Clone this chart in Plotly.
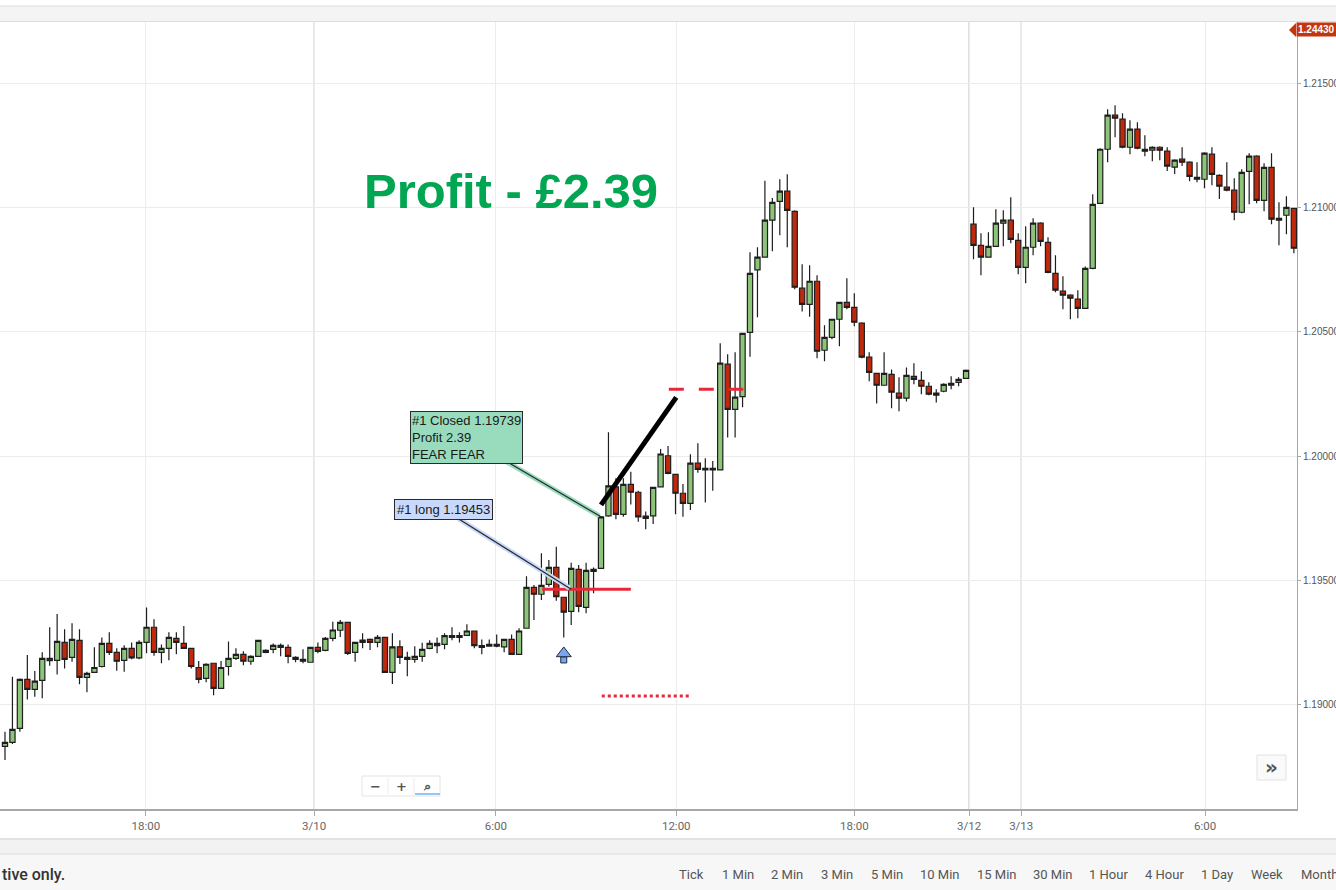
import plotly.graph_objects as go

# ---------------- data (EUR/USD style 15-min candles) ----------------
open_ = [1.18830,1.18846,1.18903,1.19100,1.19060,1.19096,1.19185,1.19177,1.19249,1.19189,
         1.19257,1.19108,1.19128,1.19152,1.19245,1.19209,1.19177,1.19225,1.19187,1.19249,
         1.19310,1.19209,1.19225,1.19265,1.19245,1.19225,1.19148,1.19104,1.19165,1.19064,
         1.19152,1.19185,1.19201,1.19173,1.19193,1.19209,1.19221,1.19237,1.19229,1.19189,
         1.19181,1.19169,1.19229,1.19217,1.19265,1.19298,1.19330,1.19209,1.19249,1.19261,
         1.19249,1.19269,1.19128,1.19231,1.19189,1.19181,1.19193,1.19225,1.19245,1.19241,
         1.19276,1.19269,1.19277,1.19295,1.19236,1.19234,1.19241,1.19231,1.19261,1.19201,
         1.19306,1.19471,1.19443,1.19483,1.19551,1.19431,1.19374,1.19543,1.19390,1.19535,
         1.19547,1.19759,1.19876,1.19765,1.19886,1.19854,1.19749,1.19759,1.19876,1.20001,
         1.19926,1.19850,1.19809,1.19971,1.19944,1.19950,1.19944,1.20370,1.20188,1.20239,
         1.20498,1.20750,1.20801,1.20950,1.21026,1.21067,1.20986,1.20676,1.20611,1.20704,
         1.20426,1.20478,1.20551,1.20619,1.20599,1.20535,1.20398,1.20333,1.20285,1.20329,
         1.20253,1.20233,1.20321,1.20305,1.20281,1.20245,1.20261,1.20285,1.20297,1.20313,
         1.20934,1.20849,1.20801,1.20845,1.20938,1.20950,1.20869,1.20760,1.20841,1.20938,
         1.20861,1.20736,1.20664,1.20648,1.20632,1.20595,1.20756,1.21018,1.21236,1.21373,
         1.21357,1.21244,1.21317,1.21236,1.21232,1.21244,1.21228,1.21164,1.21196,1.21184,
         1.21123,1.21115,1.21216,1.21131,1.21083,1.21071,1.20982,1.21147,1.21208,1.21030,
         1.21163,1.20950,1.20970,1.20998]
high = [1.18889,1.19111,1.19104,1.19198,1.19134,1.19209,1.19310,1.19363,1.19302,1.19326,
        1.19302,1.19131,1.19229,1.19269,1.19290,1.19225,1.19238,1.19249,1.19258,1.19390,
        1.19342,1.19241,1.19290,1.19290,1.19315,1.19225,1.19174,1.19165,1.19165,1.19174,
        1.19253,1.19225,1.19213,1.19197,1.19257,1.19221,1.19245,1.19245,1.19241,1.19193,
        1.19221,1.19229,1.19249,1.19271,1.19332,1.19339,1.19330,1.19251,1.19286,1.19265,
        1.19279,1.19269,1.19286,1.19258,1.19211,1.19234,1.19248,1.19258,1.19269,1.19286,
        1.19310,1.19290,1.19322,1.19295,1.19261,1.19261,1.19281,1.19261,1.19281,1.19306,
        1.19516,1.19480,1.19608,1.19581,1.19634,1.19431,1.19570,1.19561,1.19570,1.19551,
        1.19758,1.20096,1.19910,1.19910,1.19937,1.19860,1.19776,1.19874,1.20028,1.20040,
        1.19926,1.19887,1.20007,1.20051,1.19991,1.19980,1.20454,1.20410,1.20418,1.20497,
        1.20821,1.20841,1.21109,1.21039,1.21115,1.21135,1.20990,1.20773,1.20769,1.20728,
        1.20527,1.20551,1.20619,1.20716,1.20656,1.20539,1.20418,1.20333,1.20418,1.20349,
        1.20317,1.20357,1.20374,1.20341,1.20297,1.20269,1.20293,1.20321,1.20317,1.20349,
        1.21002,1.20897,1.20902,1.20994,1.20990,1.21043,1.20897,1.20926,1.20958,1.20942,
        1.20881,1.20809,1.20724,1.20652,1.20668,1.20764,1.21055,1.21240,1.21397,1.21413,
        1.21381,1.21353,1.21345,1.21292,1.21248,1.21248,1.21244,1.21196,1.21244,1.21188,
        1.21184,1.21224,1.21244,1.21135,1.21184,1.21119,1.21155,1.21220,1.21212,1.21180,
        1.21220,1.21022,1.21047,1.20998]
low = [1.18775,1.18840,1.18889,1.19019,1.19030,1.19024,1.19155,1.19120,1.19144,1.19171,
       1.19080,1.19048,1.19128,1.19148,1.19198,1.19135,1.19131,1.19181,1.19181,1.19205,
       1.19195,1.19165,1.19177,1.19201,1.19222,1.19144,1.19084,1.19088,1.19036,1.19061,
       1.19116,1.19178,1.19157,1.19159,1.19193,1.19205,1.19205,1.19193,1.19165,1.19169,
       1.19165,1.19169,1.19205,1.19213,1.19254,1.19271,1.19198,1.19171,1.19225,1.19218,
       1.19229,1.19128,1.19081,1.19162,1.19113,1.19167,1.19171,1.19221,1.19205,1.19221,
       1.19258,1.19249,1.19277,1.19225,1.19201,1.19231,1.19229,1.19209,1.19201,1.19201,
       1.19306,1.19339,1.19420,1.19473,1.19417,1.19269,1.19319,1.19370,1.19366,1.19447,
       1.19547,1.19755,1.19745,1.19755,1.19805,1.19735,1.19705,1.19726,1.19876,1.19926,
       1.19765,1.19755,1.19782,1.19933,1.19813,1.19860,1.19944,1.20075,1.20075,1.20196,
       1.20400,1.20559,1.20801,1.20825,1.20889,1.20841,1.20672,1.20582,1.20561,1.20394,
       1.20382,1.20470,1.20442,1.20591,1.20523,1.20394,1.20301,1.20212,1.20285,1.20192,
       1.20180,1.20220,1.20289,1.20249,1.20245,1.20216,1.20257,1.20269,1.20281,1.20313,
       1.20793,1.20728,1.20801,1.20845,1.20845,1.20857,1.20732,1.20696,1.20809,1.20845,
       1.20736,1.20660,1.20591,1.20551,1.20555,1.20595,1.20752,1.21018,1.21184,1.21284,
       1.21240,1.21216,1.21236,1.21208,1.21188,1.21192,1.21148,1.21136,1.21168,1.21107,
       1.21103,1.21079,1.21091,1.21035,1.21067,1.20950,1.20978,1.21014,1.21018,1.20986,
       1.20934,1.20849,1.20893,1.20817]
close = [1.18846,1.18899,1.19100,1.19060,1.19093,1.19185,1.19175,1.19253,1.19181,1.19261,
         1.19108,1.19124,1.19148,1.19245,1.19209,1.19173,1.19225,1.19187,1.19249,1.19310,
         1.19209,1.19225,1.19269,1.19249,1.19225,1.19152,1.19100,1.19161,1.19064,1.19148,
         1.19185,1.19201,1.19173,1.19193,1.19257,1.19217,1.19237,1.19229,1.19193,1.19181,
         1.19173,1.19229,1.19213,1.19265,1.19299,1.19330,1.19205,1.19249,1.19258,1.19249,
         1.19269,1.19128,1.19231,1.19189,1.19181,1.19193,1.19221,1.19245,1.19236,1.19276,
         1.19269,1.19276,1.19295,1.19236,1.19229,1.19241,1.19234,1.19261,1.19201,1.19295,
         1.19471,1.19443,1.19479,1.19551,1.19433,1.19371,1.19547,1.19394,1.19539,1.19543,
         1.19755,1.19880,1.19765,1.19886,1.19854,1.19755,1.19758,1.19874,1.20008,1.19930,
         1.19850,1.19809,1.19971,1.19946,1.19950,1.19944,1.20374,1.20188,1.20237,1.20494,
         1.20736,1.20801,1.20950,1.21022,1.21067,1.20990,1.20680,1.20611,1.20704,1.20422,
         1.20478,1.20551,1.20619,1.20599,1.20539,1.20398,1.20337,1.20285,1.20333,1.20257,
         1.20233,1.20325,1.20309,1.20281,1.20249,1.20253,1.20289,1.20293,1.20309,1.20345,
         1.20849,1.20801,1.20845,1.20938,1.20950,1.20873,1.20760,1.20841,1.20938,1.20865,
         1.20740,1.20668,1.20648,1.20636,1.20595,1.20756,1.21014,1.21236,1.21373,1.21361,
         1.21244,1.21317,1.21240,1.21228,1.21244,1.21232,1.21168,1.21192,1.21184,1.21127,
         1.21115,1.21220,1.21135,1.21087,1.21071,1.20982,1.21143,1.21208,1.21030,1.21163,
         1.20954,1.20958,1.21002,1.20837]
candle_index = list(range(len(open_)))

tick_labels = ["18:00", "3/10", "6:00", "12:00", "18:00", "3/12", "3/13", "6:00"]
tick_index = [18.9, 41.5, 65.9, 90.1, 114.0, 129.4, 136.4, 161.1]
day_labels = ["3/10", "3/12", "3/13"]

entry_index = 75
entry_text = "#1 long 1.19453"
entry_tip = (76, 1.19463)
entry_line_x = [72.1, 84.0]
entry_line_y = [1.19463, 1.19463]

close_text = "#1 Closed 1.19739<br>Profit 2.39<br>FEAR FEAR"
close_tip = (80, 1.19755)

target_x = [89.1, 99.1]
target_y = [1.20269, 1.20269]
stop_x = [80.1, 91.8]
stop_y = [1.19033, 1.19033]
trend_x = [80.0, 90.1]
trend_y = [1.19803, 1.20236]

last_price = "1.24430"
headline = "Profit - £2.39"
footer_left = "tive only."
intervals = ["Tick", "1 Min", "2 Min", "3 Min", "5 Min", "10 Min", "15 Min",
             "30 Min", "1 Hour", "4 Hour", "1 Day", "Week", "Month"]

# ---------------- geometry ----------------
W, H = 1336, 890
ML, MR, MT, MB = 0, 39, 22, 81
PW, PH = W - ML - MR, H - MT - MB
x_range = [-0.67, 173.42]
y_range = [1.185778, 1.217486]
ppx = (y_range[1] - y_range[0]) / PH


def px_x(px):
    return (px - ML) / PW


def px_y(py):
    return (H - MB - py) / PH


GREEN_FILL = "#8cc478"
RED_FILL = "#c0280c"
OUTLINE = "#1e1e1e"
RED_LINE = "#e8283a"
SANS = "Liberation Sans, Arial, sans-serif"
NARROW = "Liberation Sans Narrow, Arial Narrow, Roboto, sans-serif"

fig = go.Figure()

fig.add_trace(go.Candlestick(
    x=candle_index, open=open_, high=high, low=low, close=close,
    increasing=dict(fillcolor=GREEN_FILL, line=dict(color=OUTLINE, width=1.2)),
    decreasing=dict(fillcolor=RED_FILL, line=dict(color=OUTLINE, width=1.2)),
    whiskerwidth=0, hoverinfo="skip", showlegend=False,
))

# trade drawings
fig.add_trace(go.Scatter(x=entry_line_x, y=entry_line_y, mode="lines",
                         line=dict(color=RED_LINE, width=3), showlegend=False, hoverinfo="skip"))
fig.add_trace(go.Scatter(x=target_x, y=target_y, mode="lines",
                         line=dict(color=RED_LINE, width=3, dash="15px,15px"),
                         showlegend=False, hoverinfo="skip"))
fig.add_trace(go.Scatter(x=stop_x, y=stop_y, mode="lines",
                         line=dict(color=RED_LINE, width=3, dash="3px,3px"),
                         showlegend=False, hoverinfo="skip"))
fig.add_trace(go.Scatter(x=trend_x, y=trend_y, mode="lines",
                         line=dict(color="#000000", width=5), showlegend=False, hoverinfo="skip"))

# entry arrow (head + stem) under the entry candle
lo = low[entry_index]
fig.add_trace(go.Scatter(x=[entry_index], y=[lo - 22.5 * ppx], mode="markers",
                         marker=dict(symbol="square", size=6, color="#7ba6ee",
                                     line=dict(color="#1e2a40", width=1)),
                         showlegend=False, hoverinfo="skip"))
fig.add_trace(go.Scatter(x=[entry_index], y=[lo - 16 * ppx], mode="markers",
                         marker=dict(symbol="triangle-up", size=13, color="#7ba6ee",
                                     line=dict(color="#1e2a40", width=1)),
                         showlegend=False, hoverinfo="skip"))

shapes = []
# darker day separators
for lab, pos in zip(tick_labels, tick_index):
    if lab in day_labels:
        shapes.append(dict(type="line", xref="x", yref="paper", x0=pos, x1=pos, y0=0, y1=1,
                           line=dict(color="#cccccc", width=1.3), layer="below"))

# top toolbar strip
shapes += [
    dict(type="rect", xref="paper", yref="paper", x0=px_x(0), x1=px_x(W), y0=px_y(21), y1=px_y(6),
         fillcolor="#f4f4f4", line=dict(width=0), layer="above"),
    dict(type="line", xref="paper", yref="paper", x0=px_x(0), x1=px_x(W), y0=px_y(6), y1=px_y(6),
         line=dict(color="#dedede", width=1), layer="above"),
    dict(type="line", xref="paper", yref="paper", x0=px_x(0), x1=px_x(W), y0=px_y(21.5), y1=px_y(21.5),
         line=dict(color="#dcdcdc", width=1), layer="above"),
]
# bottom panel
shapes += [
    dict(type="rect", xref="paper", yref="paper", x0=px_x(0), x1=px_x(W), y0=px_y(854), y1=px_y(839),
         fillcolor="#f2f2f2", line=dict(width=0), layer="above"),
    dict(type="line", xref="paper", yref="paper", x0=px_x(0), x1=px_x(W), y0=px_y(839), y1=px_y(839),
         line=dict(color="#e2e2e2", width=2), layer="above"),
    dict(type="rect", xref="paper", yref="paper", x0=px_x(0), x1=px_x(W), y0=px_y(H), y1=px_y(854),
         fillcolor="#f7f7f7", line=dict(width=0), layer="above"),
    dict(type="line", xref="paper", yref="paper", x0=px_x(0), x1=px_x(W), y0=px_y(854), y1=px_y(854),
         line=dict(color="#dcdcdc", width=1), layer="above"),
]
# zoom control box and "»" button
shapes += [
    dict(type="rect", xref="paper", yref="paper", x0=px_x(362), x1=px_x(440), y0=px_y(796), y1=px_y(776),
         fillcolor="#ffffff", line=dict(color="#e4e4e4", width=1), layer="above"),
    dict(type="line", xref="paper", yref="paper", x0=px_x(388), x1=px_x(388), y0=px_y(794), y1=px_y(778),
         line=dict(color="#ececec", width=1), layer="above"),
    dict(type="line", xref="paper", yref="paper", x0=px_x(414), x1=px_x(414), y0=px_y(794), y1=px_y(778),
         line=dict(color="#ececec", width=1), layer="above"),
    dict(type="line", xref="paper", yref="paper", x0=px_x(415), x1=px_x(440), y0=px_y(794), y1=px_y(794),
         line=dict(color="#9cc3f5", width=2), layer="above"),
    dict(type="rect", xref="paper", yref="paper", x0=px_x(1257), x1=px_x(1286), y0=px_y(780), y1=px_y(755),
         fillcolor="#fafafa", line=dict(color="#e2e2e2", width=1), layer="above"),
]
# price tag pointer
shapes.append(dict(type="path", xref="paper", yref="paper",
                   path=f"M {px_x(1289)},{px_y(30)} L {px_x(1296)},{px_y(23)} L {px_x(1296)},{px_y(37)} Z",
                   fillcolor="#c3350f", line=dict(width=0), layer="above"))

annotations = []
annotations.append(dict(xref="paper", yref="paper", x=px_x(511), y=px_y(191), text=f"<b>{headline}</b>",
                        showarrow=False, xanchor="center", yanchor="middle",
                        font=dict(family=SANS, size=49, color="#00a651")))
# callouts: wide translucent tail underneath, then the box with a thin dark tail
annotations.append(dict(x=close_tip[0], y=close_tip[1], xref="x", yref="y", text=" ",
                        showarrow=True, ax=-120, ay=-70, arrowhead=0, arrowwidth=5,
                        arrowcolor="#99dbbd", standoff=2, font=dict(size=2)))
annotations.append(dict(x=close_tip[0], y=close_tip[1], xref="x", yref="y", text=close_text,
                        showarrow=True, ax=-135, ay=-79, arrowhead=0, arrowwidth=1.2,
                        arrowcolor="#2a2a2a", align="left", bgcolor="#99dbbd",
                        bordercolor="#2a2a2a", borderwidth=1, borderpad=1,
                        font=dict(family=SANS, size=13, color="#1a1a1a")))
annotations.append(dict(x=entry_tip[0], y=entry_tip[1], xref="x", yref="y", text=" ",
                        showarrow=True, ax=-115, ay=-72, arrowhead=0, arrowwidth=5,
                        arrowcolor="#c9d9fb", standoff=2, font=dict(size=2)))
annotations.append(dict(x=entry_tip[0], y=entry_tip[1], xref="x", yref="y", text=entry_text,
                        showarrow=True, ax=-128, ay=-80, arrowhead=0, arrowwidth=1.2,
                        arrowcolor="#2a2a2a", align="left", bgcolor="#c9d9fb",
                        bordercolor="#2a2a2a", borderwidth=1, borderpad=2,
                        font=dict(family=SANS, size=13, color="#1a1a1a")))
# last price tag
annotations.append(dict(xref="paper", yref="paper", x=px_x(1296), y=px_y(30), text=f"<b>{last_price}</b>",
                        showarrow=False, xanchor="left", yanchor="middle", bgcolor="#c3350f",
                        borderpad=1, font=dict(family=SANS, size=10, color="#ffffff")))
# zoom control glyphs
for cx, g in zip([375, 401, 427], ["−", "+", "⌕"]):
    annotations.append(dict(xref="paper", yref="paper", x=px_x(cx), y=px_y(786), text=f"<b>{g}</b>",
                            showarrow=False, xanchor="center", yanchor="middle",
                            font=dict(family="DejaVu Sans, sans-serif", size=13, color="#555555")))
annotations.append(dict(xref="paper", yref="paper", x=px_x(1271.5), y=px_y(767), text="<b>»</b>",
                        showarrow=False, xanchor="center", yanchor="middle",
                        font=dict(family="DejaVu Sans, sans-serif", size=20, color="#555555")))
# footer
annotations.append(dict(xref="paper", yref="paper", x=px_x(0), y=px_y(875), text=footer_left,
                        showarrow=False, xanchor="left", yanchor="middle",
                        font=dict(family="Roboto, sans-serif", size=16, color="#333333", weight=500)))
interval_x = [691, 737.8, 787, 836.7, 886.7, 939.5, 996.6, 1052.7, 1108.7, 1164.3, 1216.6, 1266.7, 1320]
for cx, lab in zip(interval_x, intervals):
    annotations.append(dict(xref="paper", yref="paper", x=px_x(cx), y=px_y(874), text=lab,
                            showarrow=False, xanchor="center", yanchor="middle",
                            font=dict(family=NARROW, size=13, color="#555555")))

fig.update_layout(
    width=W, height=H,
    margin=dict(l=ML, r=MR, t=MT, b=MB, autoexpand=False),
    paper_bgcolor="#ffffff", plot_bgcolor="#ffffff",
    showlegend=False, hovermode=False,
    boxgap=0.3, boxgroupgap=0.0,
    shapes=shapes, annotations=annotations,
    xaxis=dict(range=x_range, tickmode="array", tickvals=tick_index, ticktext=tick_labels,
               showgrid=True, gridcolor="#ececec", gridwidth=1, zeroline=False,
               showline=True, linecolor="#a8a8a8", linewidth=1.5,
               ticks="outside", ticklen=5, tickcolor="#a8a8a8",
               tickfont=dict(family=NARROW, size=11.5, color="#666666"),
               rangeslider=dict(visible=False), fixedrange=True),
    yaxis=dict(range=y_range, side="right", tick0=1.19, dtick=0.005, tickformat=".5f",
               showgrid=True, gridcolor="#ececec", gridwidth=1, zeroline=False,
               showline=True, linecolor="#a8a8a8", linewidth=1,
               ticks="outside", ticklen=3, tickcolor="#a8a8a8",
               tickfont=dict(family=SANS, size=10, color="#555555"), fixedrange=True),
)

fig.write_html("out.html", config={"displayModeBar": False},
               post_script="document.body.style.margin='0';document.body.style.overflow='hidden';")
